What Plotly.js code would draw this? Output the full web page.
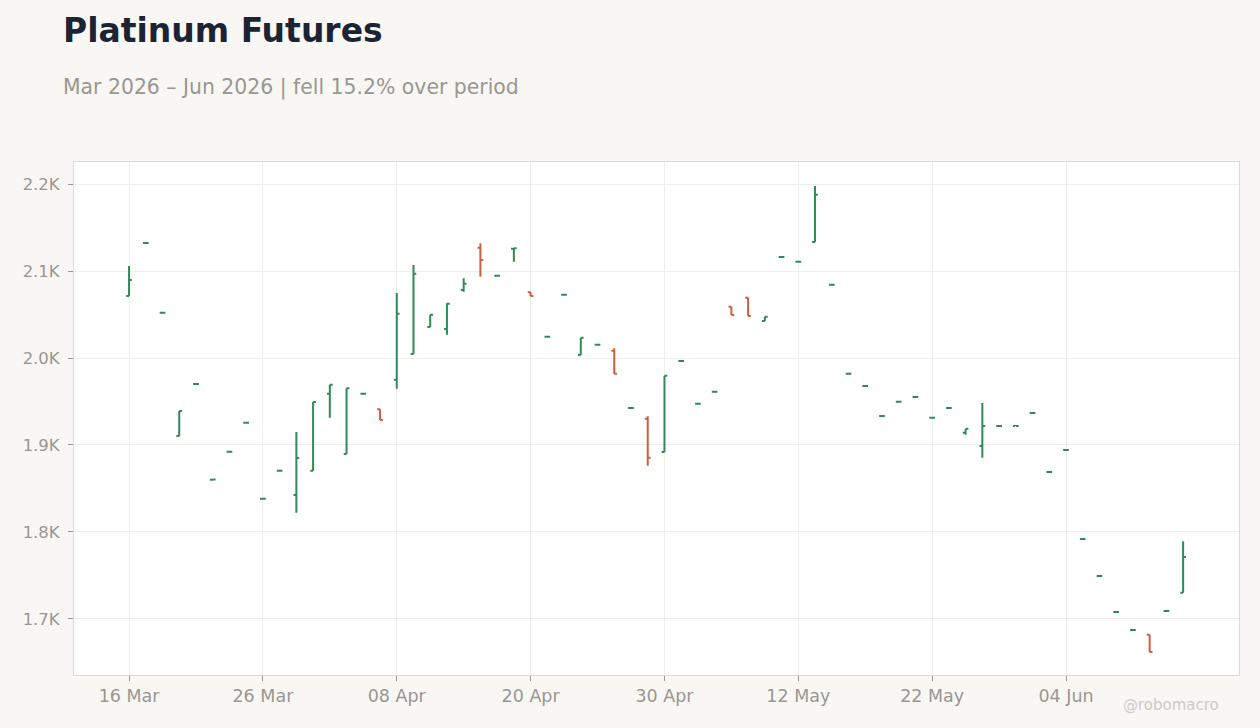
<!DOCTYPE html>
<html>
<head>
<meta charset="utf-8">
<script src="https://cdn.plot.ly/plotly-3.0.1.min.js"></script>
<style>
  html, body { margin: 0; padding: 0; background: #f8f7f4; }
  #chart { width: 1260px; height: 728px; }
</style>
</head>
<body>
<div id="chart"></div>
<script>
// trading days, Mar - Jun 2026
var dates = [
  '2026-03-16','2026-03-17','2026-03-18','2026-03-19','2026-03-20',
  '2026-03-23','2026-03-24','2026-03-25','2026-03-26','2026-03-27',
  '2026-03-30','2026-03-31','2026-04-01','2026-04-02','2026-04-06',
  '2026-04-07','2026-04-08','2026-04-09','2026-04-10','2026-04-13',
  '2026-04-14','2026-04-15','2026-04-16','2026-04-17','2026-04-20',
  '2026-04-21','2026-04-22','2026-04-23','2026-04-24','2026-04-27',
  '2026-04-28','2026-04-29','2026-04-30','2026-05-01','2026-05-04',
  '2026-05-05','2026-05-06','2026-05-07','2026-05-08','2026-05-11',
  '2026-05-12','2026-05-13','2026-05-14','2026-05-15','2026-05-18',
  '2026-05-19','2026-05-20','2026-05-21','2026-05-22','2026-05-26',
  '2026-05-27','2026-05-28','2026-05-29','2026-06-01','2026-06-02',
  '2026-06-03','2026-06-04','2026-06-05','2026-06-08','2026-06-09',
  '2026-06-10','2026-06-11','2026-06-12','2026-06-15'
];

var opens = [
  2071.3, 2132.1, 2052.0, 1910.3, 1970.0,
  1860.1, 1892.2, 1925.6, 1838.2, 1870.4,
  1842.5, 1870.5, 1959.0, 1889.7, 1958.9,
  1941.0, 1975.1, 2004.6, 2035.6, 2033.3,
  2078.2, 2126.8, 2094.5, 2125.6, 2075.5,
  2024.4, 2072.7, 2003.4, 2015.2, 2008.4,
  1942.4, 1930.2, 1892.0, 1996.5, 1947.4,
  1961.2, 2059.0, 2069.3, 2042.5, 2116.0,
  2110.6, 2133.3, 2084.2, 1981.9, 1967.7,
  1933.2, 1949.7, 1955.1, 1931.3, 1942.4,
  1914.1, 1898.9, 1921.7, 1921.7, 1936.7,
  1868.9, 1894.2, 1791.9, 1749.3, 1707.9,
  1687.3, 1682.0, 1709.1, 1730.2
];
var highs = [
  2105.7, 2132.2, 2052.1, 1939.1, 1970.1,
  1860.2, 1892.3, 1925.7, 1838.3, 1870.5,
  1914.9, 1949.4, 1969.3, 1965.2, 1959.0,
  1941.0, 2074.7, 2106.9, 2049.8, 2062.9,
  2091.6, 2131.8, 2094.6, 2126.1, 2075.5,
  2024.5, 2072.8, 2023.3, 2015.3, 2011.1,
  1942.5, 1933.0, 1979.7, 1996.6, 1947.5,
  1961.3, 2059.0, 2069.3, 2047.5, 2116.1,
  2110.7, 2197.7, 2084.3, 1982.0, 1967.8,
  1933.3, 1949.8, 1955.2, 1931.4, 1942.5,
  1918.7, 1948.3, 1921.8, 1921.8, 1936.8,
  1869.0, 1894.3, 1792.0, 1749.4, 1708.0,
  1687.4, 1682.0, 1709.2, 1789.3
];
var lows = [
  2071.3, 2132.1, 2052.0, 1910.3, 1970.0,
  1860.1, 1892.2, 1925.6, 1838.2, 1870.4,
  1822.2, 1870.5, 1931.4, 1889.7, 1958.9,
  1928.7, 1964.7, 2004.6, 2035.6, 2026.8,
  2076.2, 2093.4, 2094.5, 2110.7, 2071.3,
  2024.4, 2072.7, 2003.4, 2015.2, 1981.6,
  1942.4, 1876.2, 1892.0, 1996.5, 1947.4,
  1961.2, 2049.4, 2048.3, 2042.5, 2116.0,
  2110.6, 2133.3, 2084.2, 1981.9, 1967.7,
  1933.2, 1949.7, 1955.1, 1931.3, 1942.4,
  1911.8, 1885.4, 1921.7, 1921.7, 1936.7,
  1868.9, 1894.2, 1791.9, 1749.3, 1707.9,
  1687.3, 1662.1, 1709.1, 1730.2
];
var closes = [
  2089.7, 2132.2, 2052.1, 1939.1, 1970.1,
  1860.2, 1892.3, 1925.7, 1838.3, 1870.5,
  1885.1, 1949.4, 1969.3, 1965.2, 1959.0,
  1928.7, 2050.9, 2096.9, 2049.8, 2062.4,
  2085.4, 2112.6, 2094.6, 2126.1, 2071.3,
  2024.5, 2072.8, 2023.3, 2015.3, 1982.0,
  1942.5, 1885.4, 1979.7, 1996.6, 1947.5,
  1961.3, 2049.4, 2048.3, 2047.5, 2116.1,
  2110.7, 2187.7, 2084.3, 1982.0, 1967.8,
  1933.3, 1949.8, 1955.2, 1931.4, 1942.5,
  1918.7, 1921.8, 1921.8, 1921.8, 1936.8,
  1869.0, 1894.3, 1792.0, 1749.4, 1708.0,
  1687.4, 1662.1, 1709.2, 1771.3
];

var xTickVals = ['2026-03-16','2026-03-26','2026-04-08','2026-04-20',
                 '2026-04-30','2026-05-12','2026-05-22','2026-06-04'];
var xTickText = ['16 Mar','26 Mar','08 Apr','20 Apr','30 Apr','12 May','22 May','04 Jun'];
var yTickVals = [1700, 1800, 1900, 2000, 2100, 2200];
var yTickText = ['1.7K','1.8K','1.9K','2.0K','2.1K','2.2K'];

var trace = {
  type: 'ohlc',
  x: dates,
  open: opens,
  high: highs,
  low: lows,
  close: closes,
  tickwidth: 0.17,
  increasing: {line: {color: '#2e8b57', width: 2}},
  decreasing: {line: {color: '#cf5f3f', width: 2}},
  hoverinfo: 'skip'
};

var greyText = '#9a9691';

var layout = {
  width: 1260,
  height: 728,
  paper_bgcolor: '#f8f7f4',
  plot_bgcolor: '#ffffff',
  margin: {l: 74, r: 21, t: 162, b: 53},
  showlegend: false,
  font: {family: 'DejaVu Sans', color: greyText, size: 17.5},
  xaxis: {
    type: 'category',
    range: [-3.29, 66.34],
    tickvals: xTickVals,
    ticktext: xTickText,
    ticks: 'outside',
    ticklen: 5,
    tickcolor: '#9a9691',
    showgrid: true,
    gridcolor: '#efeeec',
    showline: true,
    mirror: true,
    linecolor: '#dedad3',
    linewidth: 1,
    rangeslider: {visible: false},
    tickfont: {size: 17.5, color: greyText}
  },
  yaxis: {
    range: [1635.6, 2225.3],
    tickvals: yTickVals,
    ticktext: yTickText,
    ticks: 'outside',
    ticklen: 5,
    tickcolor: '#9a9691',
    ticklabelstandoff: 5,
    showgrid: true,
    gridcolor: '#efeeec',
    zeroline: false,
    showline: true,
    mirror: true,
    linecolor: '#dedad3',
    linewidth: 1,
    tickfont: {size: 16.5, color: greyText}
  },
  annotations: [
    {
      text: '<b>Platinum Futures</b>',
      xref: 'paper', yref: 'paper',
      x: -0.0111, y: 1.2554,
      xanchor: 'left', yanchor: 'middle',
      showarrow: false,
      font: {family: 'DejaVu Sans', size: 33, color: '#1c2434'}
    },
    {
      text: 'Mar 2026 – Jun 2026 | fell 15.2% over period',
      xref: 'paper', yref: 'paper',
      x: -0.0111, y: 1.145,
      xanchor: 'left', yanchor: 'middle',
      showarrow: false,
      font: {family: 'DejaVu Sans', size: 20.4, color: greyText}
    },
    {
      text: '@robomacro',
      xref: 'paper', yref: 'paper',
      x: 0.9845, y: -0.0585,
      xanchor: 'right', yanchor: 'middle',
      showarrow: false,
      font: {family: 'DejaVu Sans', size: 15, color: '#cdcac5'}
    }
  ]
};

Plotly.newPlot('chart', [trace], layout, {displayModeBar: false, staticPlot: true});
</script>
</body>
</html>
